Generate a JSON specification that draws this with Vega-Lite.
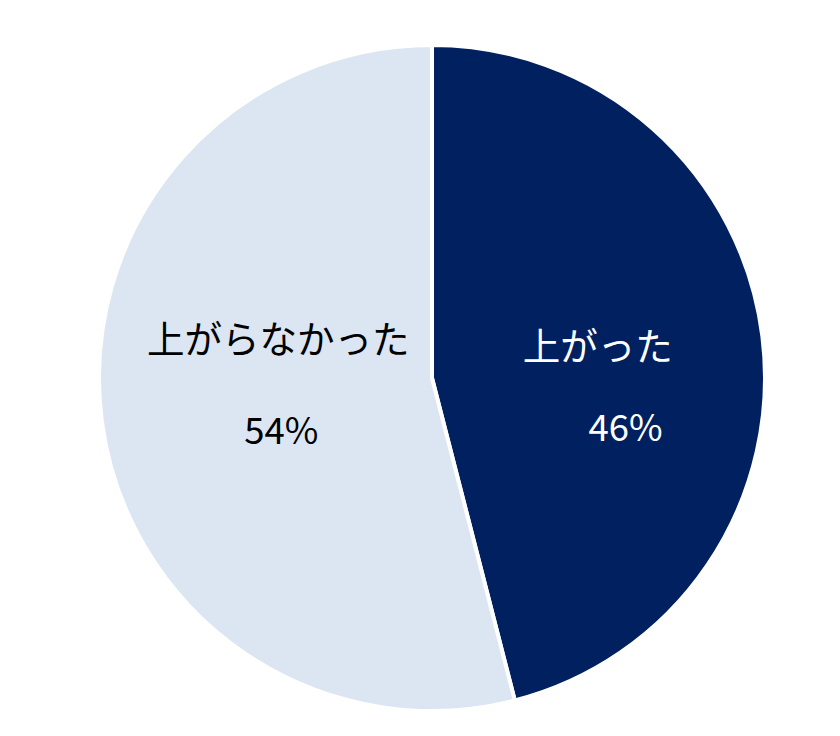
{
  "$schema": "https://vega.github.io/schema/vega-lite/v6.json",
  "autosize": {"type": "fit", "contains": "padding"},
  "width": 840,
  "height": 736,
  "padding": {"left": 24, "top": 20, "right": 0, "bottom": 0},
  "background": "white",
  "view": {"stroke": null},
  "data": {
    "values": [
      {"category": "上がった", "value": 46, "label": "46%", "order": 1},
      {"category": "上がらなかった", "value": 54, "label": "54%", "order": 2}
    ]
  },
  "encoding": {
    "theta": {"field": "value", "type": "quantitative", "stack": true},
    "order": {"field": "order", "type": "quantitative"}
  },
  "layer": [
    {
      "mark": {"type": "arc", "outerRadius": 333, "stroke": "white", "strokeWidth": 4},
      "encoding": {
        "color": {
          "field": "category",
          "type": "nominal",
          "scale": {"domain": ["上がった", "上がらなかった"], "range": ["#002060", "#DCE6F2"]},
          "legend": null
        }
      }
    },
    {
      "mark": {"type": "text", "radius": 167, "dy": -8, "fontSize": 37.5, "font": "Noto Sans CJK JP", "fill": "white"},
      "encoding": {
        "text": {"condition": {"test": "datum.category === '上がった'", "field": "category"}, "value": ""}
      }
    },
    {
      "mark": {"type": "text", "radius": 195, "dy": 76, "fontSize": 36.5, "font": "Noto Sans CJK JP", "fill": "white"},
      "encoding": {
        "text": {"condition": {"test": "datum.category === '上がった'", "field": "label"}, "value": ""}
      }
    },
    {
      "mark": {"type": "text", "radius": 155, "dy": -55, "fontSize": 37.5, "font": "Noto Sans CJK JP", "fill": "black"},
      "encoding": {
        "text": {"condition": {"test": "datum.category === '上がらなかった'", "field": "category"}, "value": ""}
      }
    },
    {
      "mark": {"type": "text", "radius": 152, "dy": 36, "fontSize": 36.5, "font": "Noto Sans CJK JP", "fill": "black"},
      "encoding": {
        "text": {"condition": {"test": "datum.category === '上がらなかった'", "field": "label"}, "value": ""}
      }
    }
  ]
}
